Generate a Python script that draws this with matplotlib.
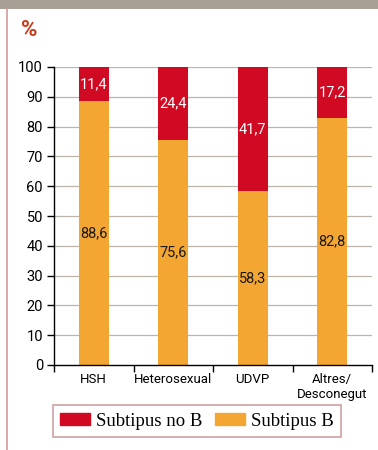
import matplotlib
matplotlib.use("Agg")
import matplotlib.pyplot as plt
from matplotlib.patches import Rectangle, Patch
from matplotlib.lines import Line2D

# transmission groups and subtype shares (%)
groups = ["HSH", "Heterosexual", "UDVP", "Altres/\nDesconegut"]
subtipus_b = [88.6, 75.6, 58.3, 82.8]
subtipus_no_b = [11.4, 24.4, 41.7, 17.2]
yticks = [0, 10, 20, 30, 40, 50, 60, 70, 80, 90, 100]

RED = "#d00a22"
ORANGE = "#f4a632"
GRID = "#bcb5aa"

plt.rcParams["font.family"] = ["Roboto", "DejaVu Sans"]

fig = plt.figure(figsize=(3.78, 4.5), dpi=100)

# grey header strip and the thin pink frame line on the left
fig.add_artist(Rectangle((0, 1 - 9 / 450), 1, 9 / 450, transform=fig.transFigure,
                         color="#a8a094", lw=0))
fig.add_artist(Line2D([7 / 378, 7 / 378], [0, 1 - 9 / 450], transform=fig.transFigure,
                      color="#d49a9a", lw=1.2))
fig.text(21 / 378, 1 - 30 / 450, "%", color="#c63b1c", fontsize=16, fontweight="bold",
         va="center", ha="left")

ax = fig.add_axes([54 / 378, 1 - 365 / 450, 318 / 378, 298 / 450])
x = list(range(len(groups)))
w = 0.38
ax.bar(x, subtipus_b, width=w, color=ORANGE, zorder=2)
ax.bar(x, subtipus_no_b, width=w, bottom=subtipus_b, color=RED, zorder=2)

for i in x:
    ax.text(i, subtipus_b[i] / 2, f"{subtipus_b[i]:.1f}".replace(".", ","),
            ha="center", va="center", fontsize=10.5, color="#1a1a1a", zorder=3)
    ax.text(i, subtipus_b[i] + subtipus_no_b[i] / 2,
            f"{subtipus_no_b[i]:.1f}".replace(".", ","),
            ha="center", va="center", fontsize=10.5, color="white", zorder=3)

ax.set_xlim(-0.5, len(groups) - 0.5)
ax.set_ylim(0, 100)
ax.set_yticks(yticks)
ax.tick_params(axis="y", length=5, width=1, labelsize=10.5, pad=3)
for y in yticks[1:]:
    ax.axhline(y, color=GRID, lw=0.9, zorder=1)

# category labels sit between tick marks drawn at the group boundaries
ax.set_xticks([i - 0.5 for i in range(len(groups) + 1)])
ax.set_xticklabels([])
ax.set_xticks(x, minor=True)
ax.set_xticklabels(groups, minor=True, fontsize=9.5, linespacing=1.15)
ax.tick_params(axis="x", which="major", length=5, width=1, direction="out")
ax.tick_params(axis="x", which="minor", length=0, pad=6)

for s in ["top", "right"]:
    ax.spines[s].set_visible(False)
ax.spines["left"].set_linewidth(1)
ax.spines["bottom"].set_linewidth(1)

handles = [Patch(color=RED, label="Subtipus no B"), Patch(color=ORANGE, label="Subtipus B")]
leg = fig.legend(handles=handles, loc="center", bbox_to_anchor=(197 / 378, 1 - 421 / 450),
                 ncol=2, frameon=True, fancybox=False, handlelength=1.6, handleheight=0.6,
                 columnspacing=0.7, handletextpad=0.3, borderpad=0.4,
                 prop={"family": "Liberation Serif", "size": 13.5})
leg.get_frame().set_edgecolor("#c48a8a")
leg.get_frame().set_linewidth(1.2)

fig.savefig("out.png", dpi=100)
